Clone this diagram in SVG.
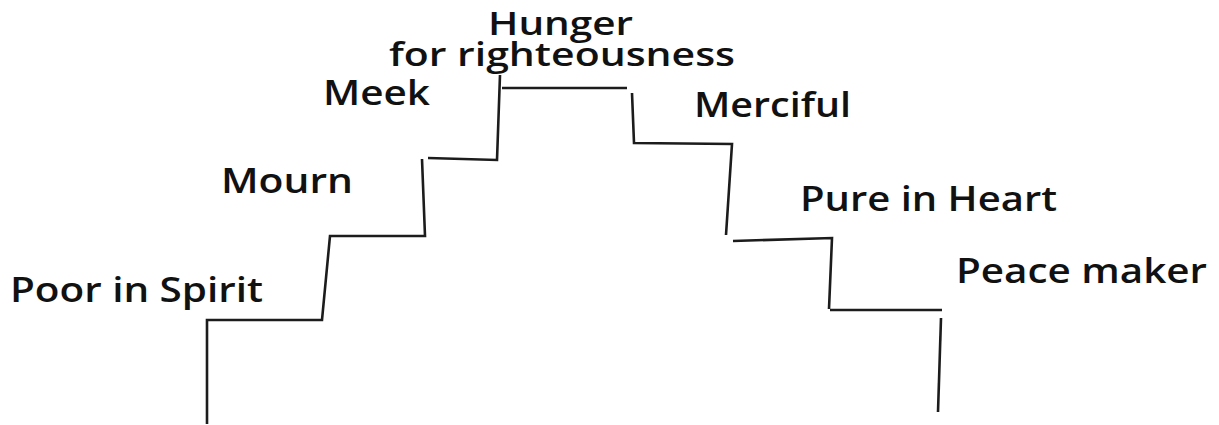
<svg xmlns="http://www.w3.org/2000/svg" width="1219" height="425" viewBox="0 0 1219 425">
  <style>
    .lbl { font-family: "Open Sans", "Liberation Sans", sans-serif; font-weight: 600; font-size: 34px; fill: #111; }
    .tight { font-size: 32px; }
    .stair { fill: none; stroke: #1c1c1c; stroke-width: 2.6; stroke-linejoin: miter; stroke-linecap: butt; }
  </style>
  <rect width="1219" height="425" fill="#ffffff"/>
  <g id="connectors">
    <polyline class="stair" points="207,424 207,320 322,320 330,236 425,236 422,159"/>
    <polyline class="stair" points="428,158 497,160 500,75"/>
    <polyline class="stair" points="502,88 627,88"/>
    <polyline class="stair" points="632,93 634,143 732,144 726,235"/>
    <polyline class="stair" points="733,241 832,238 829,309"/>
    <polyline class="stair" points="830,310 942,310"/>
    <polyline class="stair" points="941,318 938,412"/>
  </g>
  <g id="poor-in-spirit"><text class="lbl" x="10" y="302" textLength="253" lengthAdjust="spacingAndGlyphs">Poor in Spirit</text></g>
  <g id="mourn"><text class="lbl" x="221" y="193" textLength="132" lengthAdjust="spacingAndGlyphs">Mourn</text></g>
  <g id="meek"><text class="lbl" x="323" y="105" textLength="107" lengthAdjust="spacingAndGlyphs">Meek</text></g>
  <g id="hunger">
    <text class="lbl tight" x="488" y="35" textLength="145" lengthAdjust="spacingAndGlyphs">Hunger</text>
    <text class="lbl tight" x="389" y="66" textLength="346" lengthAdjust="spacingAndGlyphs">for righteousness</text>
  </g>
  <g id="merciful"><text class="lbl" x="694" y="117" textLength="157" lengthAdjust="spacingAndGlyphs">Merciful</text></g>
  <g id="pure-in-heart"><text class="lbl" x="800" y="211" textLength="257" lengthAdjust="spacingAndGlyphs">Pure in Heart</text></g>
  <g id="peace-maker"><text class="lbl" x="956" y="283" textLength="251" lengthAdjust="spacingAndGlyphs">Peace maker</text></g>
</svg>
